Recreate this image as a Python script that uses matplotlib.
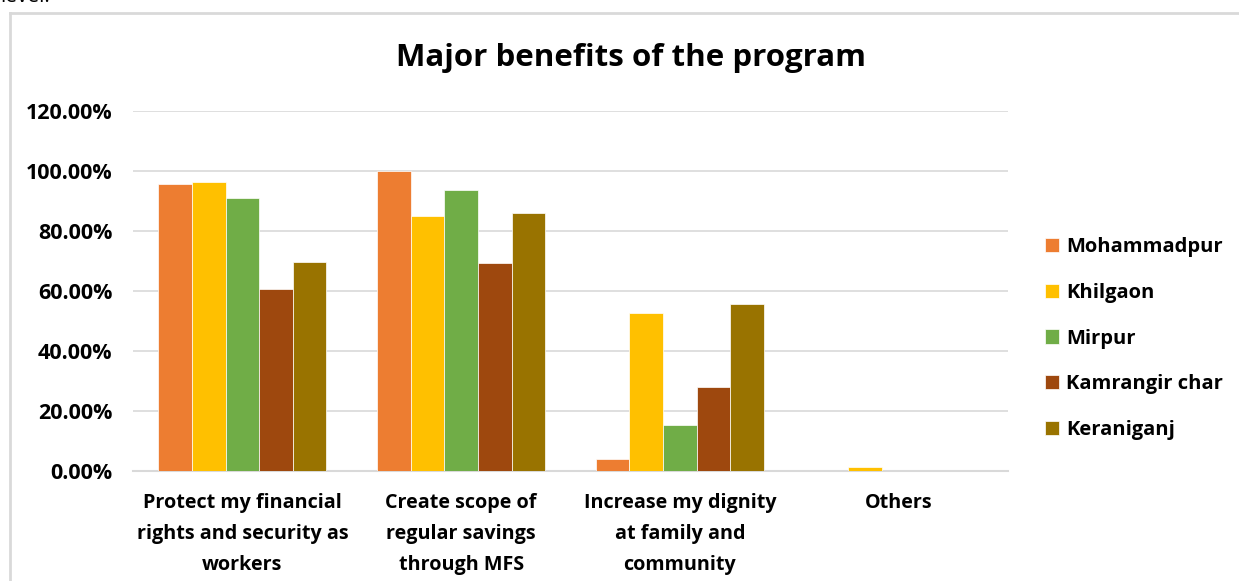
import numpy as np
import matplotlib.pyplot as plt
from matplotlib.lines import Line2D

plt.rcParams['font.family'] = ['Open Sans', 'DejaVu Sans']
plt.rcParams['font.weight'] = 'bold'

categories = ['Protect my financial\nrights and security as\nworkers',
              'Create scope of\nregular savings\nthrough MFS',
              'Increase my dignity\nat family and\ncommunity',
              'Others']
areas = ['Mohammadpur', 'Khilgaon', 'Mirpur', 'Kamrangir char', 'Keraniganj']
mohammadpur = [95.7, 100.0, 3.9, 0.0]
khilgaon = [96.3, 85.0, 52.7, 1.4]
mirpur = [91.0, 93.7, 15.4, 0.0]
kamrangir_char = [60.7, 69.3, 28.0, 0.0]
keraniganj = [69.8, 85.9, 55.7, 0.0]
colors = ['#ED7D31', '#FFC000', '#70AD47', '#9E480E', '#997300']

series = [mohammadpur, khilgaon, mirpur, kamrangir_char, keraniganj]

fig = plt.figure(figsize=(12.39, 5.81), dpi=100)
ax = fig.add_axes([133/1239, 1-471/581, 875/1239, 360/581])

x = np.arange(len(categories))
w = 0.1536
for i, (vals, name, c) in enumerate(zip(series, areas, colors)):
    ax.bar(x + (i-2)*w, vals, w, color=c, label=name, edgecolor='white', linewidth=0.5, zorder=3)

ax.set_xlim(-0.5, 3.5)
ax.set_ylim(0, 120)
ax.set_yticks(np.arange(0, 121, 20))
ax.set_yticklabels(['%.2f%%' % v for v in np.arange(0, 121, 20)], fontsize=15.5, fontweight='bold')
ax.set_xticks(x)
ax.set_xticklabels(categories, fontsize=14.2, fontweight='bold', linespacing=1.74)
ax.tick_params(axis='y', length=0, pad=15)
ax.tick_params(axis='x', length=0, pad=15.5)
ax.grid(axis='y', color='#d9d9d9', linewidth=1.2, zorder=0)
for s in ['top', 'right', 'left']:
    ax.spines[s].set_visible(False)
ax.spines['bottom'].set_color('#d9d9d9')
ax.spines['bottom'].set_linewidth(1.5)

fig.text(631/1239, 1-58/581, 'Major benefits of the program', ha='center', va='center',
         fontsize=22.5, fontweight='bold')

ax.legend(loc='upper left', bbox_to_anchor=(1045/1239, 1-237/581), bbox_transform=fig.transFigure,
          frameon=False, fontsize=14.5, handlelength=0.7, handleheight=0.7, handletextpad=0.35,
          labelspacing=1.28, borderpad=0, borderaxespad=0)

# frame around the chart and cut-off text from the page above
fig.add_artist(Line2D([10/1239, 1], [1-13/581, 1-13/581], color='#d9d9d9', lw=2))
fig.add_artist(Line2D([10/1239, 10/1239], [0, 1-13/581], color='#d9d9d9', lw=2))
fig.text(0.0, 1-2/581, 'level.', fontsize=15, fontweight='normal', va='baseline')

fig.savefig('out.png', dpi=100)
